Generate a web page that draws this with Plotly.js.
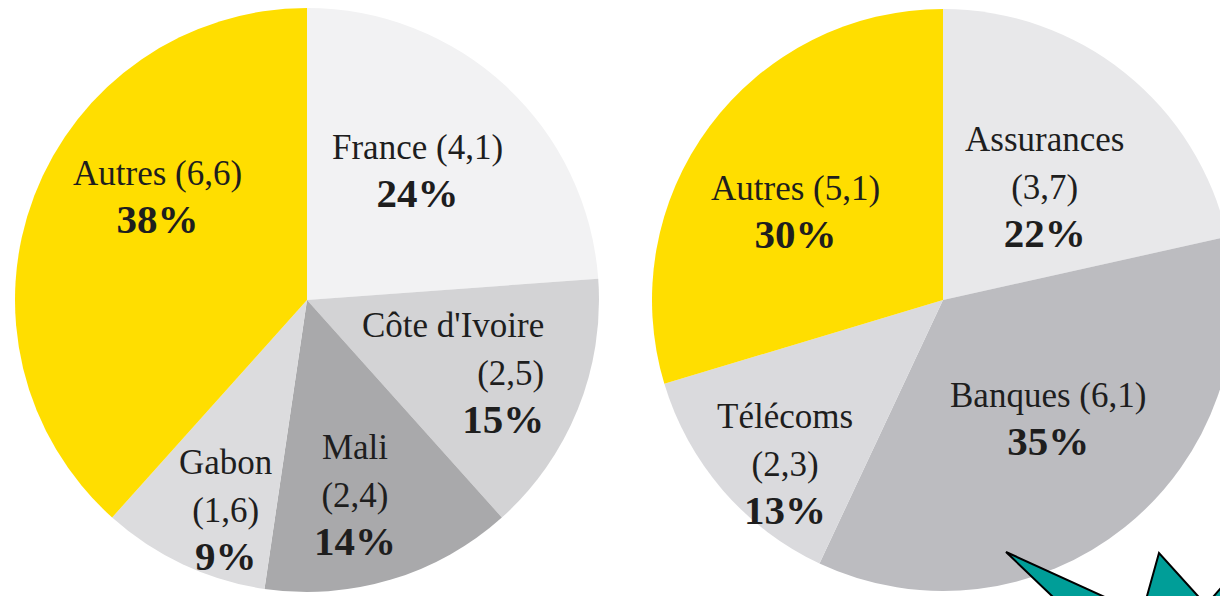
<!DOCTYPE html>
<html>
<head>
<meta charset="utf-8">
<script src="https://cdn.plot.ly/plotly-3.0.1.min.js"></script>
<style>
  html, body { margin: 0; padding: 0; overflow: hidden; background: #fff; }
  #chart { width: 1240px; height: 596px; }
</style>
</head>
<body>
<div id="chart"></div>
<script>
// Répartition par pays (gauche) et par secteur (droite)
const countryLabels = ["France", "Côte d'Ivoire", "Mali", "Gabon", "Autres"];
const countryValues = [4.1, 2.5, 2.4, 1.6, 6.6];
const countryColors = ["#f2f2f3", "#d3d3d5", "#a9a9ab", "#dcdcde", "#ffde00"];

const sectorLabels = ["Assurances", "Banques", "Télécoms", "Autres"];
const sectorValues = [3.7, 6.1, 2.3, 5.1];
const sectorColors = ["#e8e8ea", "#bcbcc0", "#dadadd", "#ffde00"];

// label styling: value on its own line?, distance from centre (x radius), angle nudge (deg), alignment
const countryStacked = [false, true, true, true, false];
const countryLabelR = [0.58, 0.56, 0.69, 0.775, 0.62];
const countryNudge = [-2, 5, 3, -4, 13.5];
const countryAlign = ["center", "right", "center", "center", "center"];

const sectorStacked = [true, false, true, false];
const sectorLabelR = [0.52, 0.55, 0.785, 0.59];
const sectorNudge = [3.6, -2.5, -5.4, -6];
const sectorAlign = ["center", "center", "center", "center"];

const W = 1240, H = 596;
const FONT = "Liberation Serif, Times New Roman, serif";

// pixel -> paper helpers
function px(x){ return x / W; }
function py(y){ return 1 - y / H; }

function pie_domain(cx, cy, r){
    return {
        x: [px(cx - r), px(cx + r)],
        y: [py(cy + r), py(cy - r)],
    };
}

function make_pie(labels, values, colors, cx, cy, r){
    return {
        type: "pie",
        labels: labels,
        values: values,
        sort: false,
        direction: "clockwise",
        rotation: 0,
        domain: pie_domain(cx, cy, r),
        marker: { colors: colors, line: { width: 0 } },
        textinfo: "none",
        hoverinfo: "none",
        showlegend: false,
    };
}

function slice_labels(labels, values, stacked, labelR, nudge, align, cx, cy, r){
    const total = values.reduce(function(a, b){ return a + b; }, 0);
    let cum = 0;
    let out = [];
    for(let i = 0; i < values.length; i++){
        const mid = (cum + values[i] / 2) / total * 360 + nudge[i];
        cum += values[i];
        const a = mid * Math.PI / 180;
        const d = labelR[i] * r;
        const val = "(" + values[i].toFixed(1).replace(".", ",") + ")";
        const pct = Math.round(values[i] / total * 100) + "%";
        const name = stacked[i]
            ? "<span style='font-size:35px'>" + labels[i] + "</span><br><span style='font-size:35px'>" + val + "</span>"
            : "<span style='font-size:35px'>" + labels[i] + " " + val + "</span>";
        out.push({
            xref: "paper",
            yref: "paper",
            x: px(cx + d * Math.sin(a)),
            y: py(cy - d * Math.cos(a)),
            xanchor: "center",
            yanchor: "middle",
            align: align[i],
            showarrow: false,
            text: name + "<br><span style='font-size:41px'><b>" + pct + "</b></span>",
            font: { family: FONT, size: 37, color: "#1e1e1e" },
        });
    }
    return out;
}

const traces = [
    make_pie(countryLabels, countryValues, countryColors, 307, 300, 292),
    make_pie(sectorLabels, sectorValues, sectorColors, 943, 300, 291),
];

const annotations = slice_labels(countryLabels, countryValues, countryStacked, countryLabelR, countryNudge, countryAlign, 307, 300, 292)
    .concat(slice_labels(sectorLabels, sectorValues, sectorStacked, sectorLabelR, sectorNudge, sectorAlign, 943, 300, 291));

// decorative teal star peeking in at the bottom right
const starPts = [[1006,552],[1142,614],[1159,553],[1206,605],[1250,555],[1260,700],[1098,640]];
let starPath = "";
starPts.forEach(function(p, i){
    starPath += (i === 0 ? "M " : " L ") + px(p[0]) + "," + py(p[1]);
});
starPath += " Z";

const layout = {
    width: W,
    height: H,
    margin: { l: 0, r: 0, t: 0, b: 0, pad: 0 },
    paper_bgcolor: "#ffffff",
    showlegend: false,
    annotations: annotations,
    shapes: [{
        type: "path",
        xref: "paper",
        yref: "paper",
        path: starPath,
        fillcolor: "#009e98",
        line: { color: "#000", width: 2 },
        layer: "above",
    }],
};

Plotly.newPlot("chart", traces, layout, { displayModeBar: false, staticPlot: true });
</script>
</body>
</html>
